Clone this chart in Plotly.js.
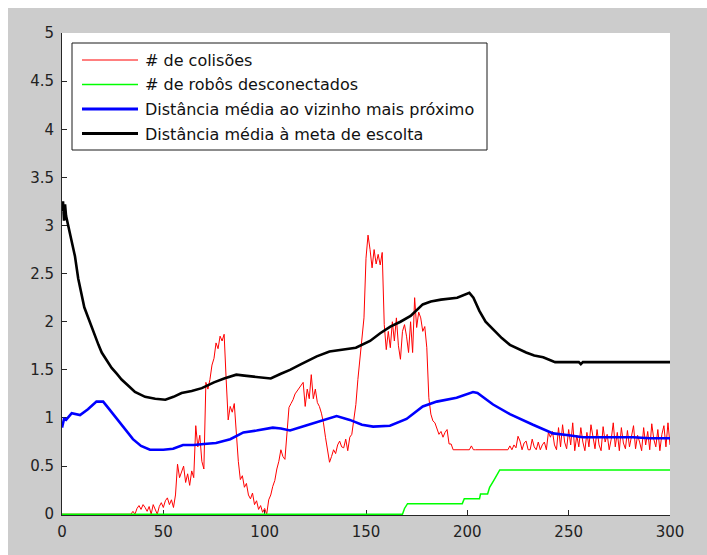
<!DOCTYPE html>
<html>
<head>
<meta charset="utf-8">
<script src="https://cdn.plot.ly/plotly-3.0.1.min.js"></script>
<style>
  html, body { margin: 0; padding: 0; background: #ffffff; }
  #chart { position: absolute; left: 8px; top: 8px; width: 699px; height: 547px; }
</style>
</head>
<body>
<div id="chart"></div>
<script>
// ---- Data ----
var seriesNames = [
  "# de colisões",
  "# de robôs desconectados",
  "Distância média ao vizinho mais próximo",
  "Distância média à meta de escolta"
];

// # de colisões, one value per time step t = 0..300
var collisionsY = [
  0,0,0,0,0,0,0,0,0,0, 0,0,0,0,0,0,0,0,0,0, 0,0,0,0,0,0,0,0,0,0, 0,0,0,0,0,
  0.03,0.0,0.06,0.09,0.05,0.1,0.07,0.03,0.08,0.0,0.1,0.05,0.0,0.08,0.12,0.07,0.14,0.17,0.1,0.15,0.07,
  0.2,0.52,0.38,0.45,0.5,0.33,0.42,0.3,0.45,0.38,0.92,0.7,0.82,0.55,0.47,1.37,1.3,1.4,1.55,1.62,1.78,1.72,1.85,1.8,1.87,
  1.4,0.98,1.12,1.06,1.15,0.81,0.55,0.36,0.4,0.28,0.32,0.2,0.16,0.22,0.1,0.14,0.05,0.09,0.02,0.06,
  0.0,0.15,0.2,0.29,0.35,0.47,0.55,0.67,0.6,0.57,0.85,1.11,1.15,1.19,1.25,1.28,1.32,1.35,1.37,1.12,
  1.3,1.2,1.45,1.2,1.3,1.16,1.12,1.05,0.95,0.8,0.65,0.54,0.6,0.67,0.63,0.72,0.76,0.7,0.69,0.78,
  0.66,0.8,0.83,1.0,1.14,1.4,1.63,1.85,2.04,2.66,2.9,2.75,2.56,2.75,2.6,2.7,2.59,2.72,1.97,1.71,
  1.9,1.73,2.0,1.8,2.04,1.75,1.61,1.9,1.97,1.85,1.68,2.0,1.68,2.25,1.94,2.1,2.04,1.9,1.95,1.73,
  1.21,1.04,0.97,0.95,0.9,0.83,0.86,0.8,0.85,0.88,0.73,0.73,0.67,0.67,0.67,0.67,0.67,0.67,0.67,0.67,
  0.67,0.71,0.67,0.67,0.67,0.67,0.67,0.67,0.67,0.67,0.67,0.67,0.67,0.67,0.67,0.67,0.67,0.67,0.67,0.67,
  0.71,0.67,0.72,0.69,0.81,0.76,0.67,0.74,0.76,0.67,0.67,0.78,0.7,0.67,0.75,0.67,0.72,0.75,0.67,0.85,
  0.8,0.86,0.72,0.67,0.9,0.7,0.93,0.75,0.68,0.88,0.72,0.95,0.66,0.82,0.7,0.9,0.75,0.66,0.85,0.7,
  0.93,0.8,0.68,0.88,0.72,0.66,0.91,0.75,0.83,0.67,0.78,0.95,0.7,0.85,0.66,0.9,0.74,0.68,0.87,0.7,
  0.8,0.92,0.68,0.82,0.75,0.66,0.9,0.72,0.86,0.67,0.94,0.78,0.7,0.88,0.66,0.83,0.92,0.7,0.95,0.72
];

// # de robôs desconectados (step curve)
var disconnectedX = [0, 168, 169, 170.5, 197.5, 198.5, 206, 206.5, 210, 211, 213, 216, 300];
var disconnectedY = [0, 0, 0.06, 0.11, 0.11, 0.16, 0.16, 0.21, 0.21, 0.28, 0.35, 0.46, 0.46];

// Distância média ao vizinho mais próximo
var neighborX = [0, 1, 2, 4.8, 8.9, 12.8, 17, 20.3, 23, 26, 28.6, 31, 35, 39, 43.4, 50, 54.8, 59.7, 65, 70,
  76, 83, 89.5, 96, 104, 108, 112.5, 120, 128.9, 135.5, 142, 148, 153.5, 161.8, 170, 178, 184.9, 194.7,
  202.8, 205, 212.7, 221, 232.4, 242.3, 250, 257, 270, 281.7, 290, 300];
var neighborY = [0.90, 0.99, 0.98, 1.05, 1.03, 1.09, 1.17, 1.17, 1.10, 1.02, 0.95, 0.88, 0.78, 0.71, 0.67, 0.67, 0.68, 0.72, 0.72, 0.73,
  0.74, 0.78, 0.85, 0.87, 0.90, 0.89, 0.87, 0.92, 0.98, 1.02, 0.98, 0.93, 0.91, 0.92, 0.99, 1.12, 1.17, 1.21,
  1.27, 1.26, 1.14, 1.04, 0.93, 0.84, 0.82, 0.80, 0.80, 0.80, 0.79, 0.79];

// Distância média à meta de escolta
var escortX = [0, 0.5, 1, 1.5, 2, 3, 4.5, 6.4, 8, 9.7, 11, 12.8, 14.5, 16.3, 18, 19.6, 22, 24.5, 27, 29.4,
  33, 36, 41, 46, 51, 55, 59, 64, 69, 75, 80, 86, 90, 95, 100, 103, 108, 112.5, 118, 125.7,
  132, 138, 145, 152, 157, 162, 167, 172, 178, 182, 187, 195, 201, 203, 206, 209, 212.7, 217, 221, 225,
  229, 233, 237.4, 241, 243.3, 255, 256, 257, 300];
var escortY = [3.15, 3.25, 3.05, 3.22, 3.10, 3.00, 2.85, 2.68, 2.45, 2.26, 2.15, 2.05, 1.95, 1.85, 1.76, 1.68, 1.60, 1.52, 1.46, 1.40,
  1.33, 1.27, 1.22, 1.20, 1.19, 1.22, 1.26, 1.28, 1.31, 1.37, 1.41, 1.45, 1.44, 1.43, 1.42, 1.41, 1.46, 1.50, 1.56, 1.64,
  1.69, 1.71, 1.73, 1.80, 1.88, 1.95, 2.00, 2.06, 2.18, 2.21, 2.23, 2.25, 2.30, 2.25, 2.11, 2.00, 1.92, 1.83, 1.76, 1.72,
  1.68, 1.65, 1.63, 1.60, 1.58, 1.58, 1.56, 1.58, 1.58];

var xTickVals = [0, 50, 100, 150, 200, 250, 300];
var yTickVals = [0, 0.5, 1, 1.5, 2, 2.5, 3, 3.5, 4, 4.5, 5];

// ---- Build ----
var collisionsX = collisionsY.map(function (v, i) { return i; });
var colors = ["#ff0000", "#00ff00", "#0000ff", "#000000"];
var widths = [1, 1.5, 2.6, 2.6];

var traces = [
  {x: collisionsX, y: collisionsY, name: seriesNames[0]},
  {x: disconnectedX, y: disconnectedY, name: seriesNames[1]},
  {x: neighborX, y: neighborY, name: seriesNames[2]},
  {x: escortX, y: escortY, name: seriesNames[3]}
].map(function (t, i) {
  t.type = "scatter"; t.mode = "lines"; t.showlegend = false;
  t.line = {color: colors[i], width: widths[i]};
  t.hoverinfo = "skip";
  return t;
});

// custom MATLAB-style legend (paper coordinates of the plot area)
var plotL = 62, plotR = 670, plotT = 33, plotB = 515;
function px(x) { return (x - plotL) / (plotR - plotL); }
function py(y) { return (plotB - y) / (plotB - plotT); }

var shapes = [{
  type: "rect", xref: "paper", yref: "paper",
  x0: px(72), x1: px(487), y0: py(150), y1: py(43),
  line: {color: "#1a1a1a", width: 1}, fillcolor: "#ffffff", layer: "above"
}];
var annotations = [];
var rowY = [60, 84.5, 109, 133.5];
seriesNames.forEach(function (name, i) {
  shapes.push({
    type: "line", xref: "paper", yref: "paper",
    x0: px(82), x1: px(138), y0: py(rowY[i]), y1: py(rowY[i]),
    line: {color: colors[i], width: widths[i] + (i >= 2 ? 0.4 : 0)}, layer: "above"
  });
  annotations.push({
    xref: "paper", yref: "paper", x: px(143), y: py(rowY[i] + 0.5),
    xanchor: "left", yanchor: "middle", showarrow: false, text: name,
    font: {family: "DejaVu Sans, Arial, sans-serif", size: 16, color: "#111111"}
  });
});

var axisCommon = {
  showgrid: false, zeroline: false, showline: true, linecolor: "#262626", linewidth: 1,
  ticks: "inside", ticklen: 5, tickwidth: 1, tickcolor: "#262626",
  tickfont: {family: "DejaVu Sans, Arial, sans-serif", size: 15, color: "#222222"},
  mirror: false, layer: "below traces", fixedrange: true
};

var layout = {
  width: 699, height: 547,
  margin: {l: 54, r: 37, t: 25, b: 40, pad: 0},
  paper_bgcolor: "#cccccc", plot_bgcolor: "#ffffff",
  showlegend: false,
  xaxis: Object.assign({}, axisCommon, {range: [0, 300], tickvals: xTickVals, ticktext: xTickVals.map(String), ticklabelstandoff: 3}),
  yaxis: Object.assign({}, axisCommon, {range: [-0.008, 5], tickvals: yTickVals, ticklabelstandoff: 4}),
  shapes: shapes,
  annotations: annotations
};

Plotly.newPlot("chart", traces, layout, {staticPlot: true, displayModeBar: false});
</script>
</body>
</html>
